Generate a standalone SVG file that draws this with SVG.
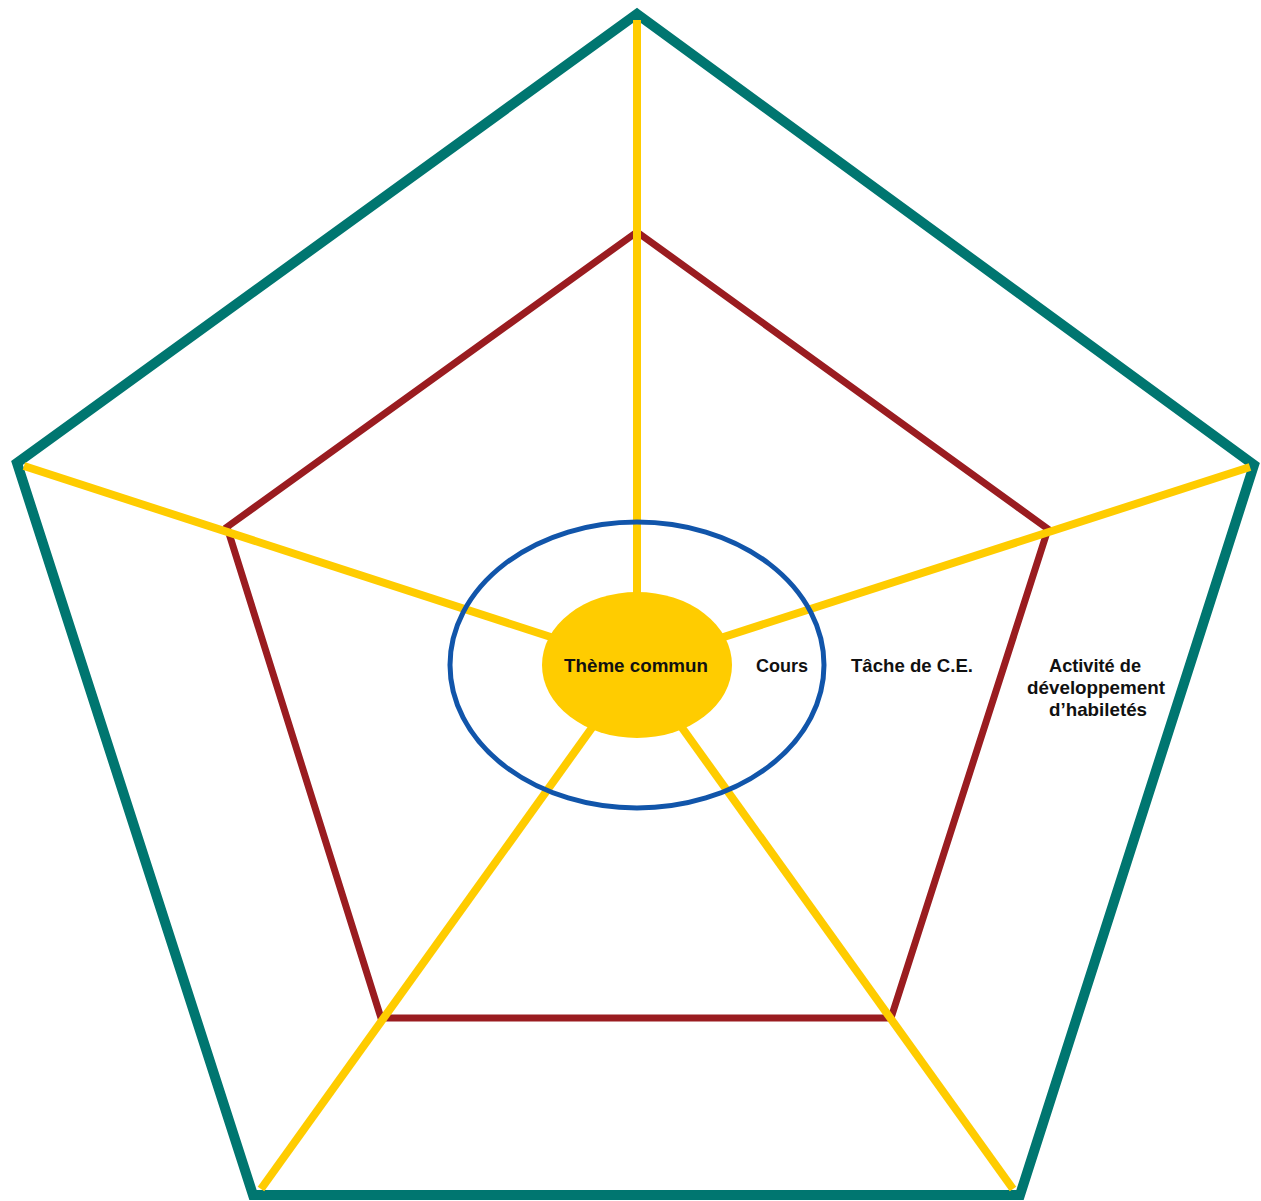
<svg xmlns="http://www.w3.org/2000/svg" width="1261" height="1201" viewBox="0 0 1261 1201">
<style>
.outer{fill:none;stroke:#007670;stroke-width:10;stroke-linejoin:miter}
.inner{fill:none;stroke:#9A1C20;stroke-width:7}
.spoke{stroke:#FFCC00;stroke-width:8}
.ring{fill:none;stroke:#1155AA;stroke-width:5}
.core{fill:#FFCC00}
text{font-family:"Liberation Sans",Arial,sans-serif;font-weight:bold;font-size:19px;fill:#111;text-anchor:middle}
</style>
<rect width="1261" height="1201" fill="#fff"/>
<g id="outer-pentagon"><polygon class="outer" points="637,14 1254,465 1020,1195 253,1195 17,463"/></g>
<g id="inner-pentagon"><polygon class="inner" points="637,232 1048,529 891,1018 381,1018 227,527"/></g>
<g id="connectors">
<line class="spoke" x1="637" y1="665" x2="637" y2="20"/>
<line class="spoke" x1="637" y1="665" x2="24" y2="466"/>
<line class="spoke" x1="637" y1="665" x2="1250" y2="467"/>
<line class="spoke" x1="637" y1="665" x2="261" y2="1189"/>
<line class="spoke" x1="637" y1="665" x2="1013" y2="1189"/>
</g>
<g id="cours"><ellipse class="ring" cx="637" cy="665" rx="187" ry="143"/><text x="782" y="672" textLength="52" lengthAdjust="spacingAndGlyphs">Cours</text></g>
<g id="theme-commun"><ellipse class="core" cx="637" cy="665" rx="95" ry="73"/><text x="636" y="672" textLength="144" lengthAdjust="spacingAndGlyphs">Thème commun</text></g>
<g id="tache"><text x="912" y="672" textLength="122" lengthAdjust="spacingAndGlyphs">Tâche de C.E.</text></g>
<g id="activite">
<text x="1095" y="672" textLength="92" lengthAdjust="spacingAndGlyphs">Activité de</text>
<text x="1096" y="694" textLength="138" lengthAdjust="spacingAndGlyphs">développement</text>
<text x="1098" y="716" textLength="98" lengthAdjust="spacingAndGlyphs">d’habiletés</text>
</g>
</svg>
